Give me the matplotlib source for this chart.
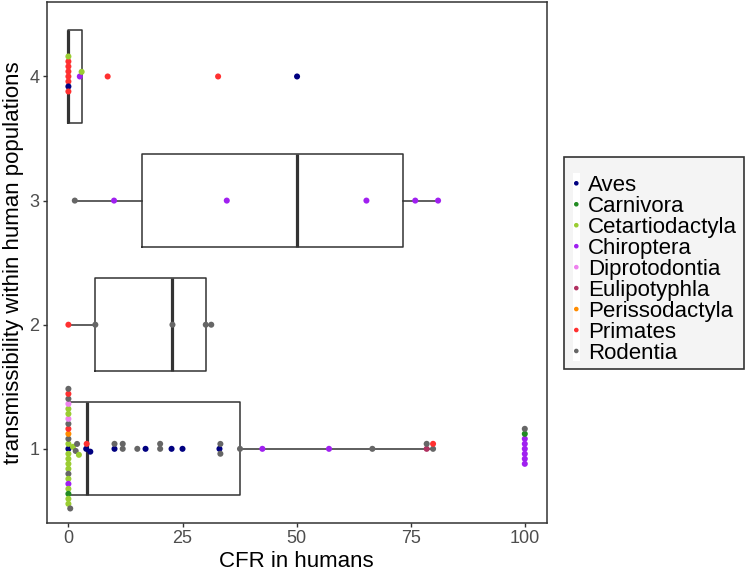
import numpy as np
import matplotlib
matplotlib.use("Agg")
import matplotlib.pyplot as plt
from matplotlib.patches import Rectangle

plt.rcParams["font.family"] = ["Liberation Sans", "DejaVu Sans"]

# ---- host orders and their colours ----
orders = ["Aves", "Carnivora", "Cetartiodactyla", "Chiroptera", "Diprotodontia",
          "Eulipotyphla", "Perissodactyla", "Primates", "Rodentia"]
order_colors = ["#000080", "#228B22", "#9ACD32", "#A020F0", "#EE82EE",
                "#B03060", "#FF8C00", "#FF3030", "#666666"]

# ---- CFR (%) per virus, grouped by transmissibility level ----
cfr_level1 = [0, 0, 0, 0, 0, 0, 0, 0, 0, 0, 0, 0, 0, 0, 0, 0, 0, 0, 0, 0, 0, 0, 0, 0,
              0.4, 1.0, 1.6, 1.9, 2.3, 3.9, 4.0, 4.8, 10.1, 10.1, 11.9, 11.9,
              15.1, 16.9, 20.1, 20.1, 22.6, 25.0, 33.1, 33.3, 33.3, 37.6, 42.5,
              57.1, 66.6, 78.5, 78.5, 79.9, 79.9,
              100, 100, 100, 100, 100, 100, 100, 100]
host_level1 = ["Aves", "Cetartiodactyla", "Cetartiodactyla", "Rodentia", "Cetartiodactyla",
               "Perissodactyla", "Cetartiodactyla", "Primates", "Cetartiodactyla", "Rodentia",
               "Rodentia", "Diprotodontia", "Cetartiodactyla", "Cetartiodactyla", "Chiroptera",
               "Cetartiodactyla", "Cetartiodactyla", "Diprotodontia", "Carnivora", "Rodentia",
               "Cetartiodactyla", "Primates", "Cetartiodactyla", "Rodentia",
               "Rodentia", "Cetartiodactyla", "Rodentia", "Rodentia", "Cetartiodactyla",
               "Aves", "Primates", "Aves", "Aves", "Rodentia", "Rodentia", "Rodentia",
               "Rodentia", "Aves", "Rodentia", "Rodentia", "Aves", "Aves", "Aves",
               "Rodentia", "Rodentia", "Rodentia", "Chiroptera",
               "Chiroptera", "Rodentia", "Eulipotyphla", "Rodentia", "Rodentia", "Primates",
               "Chiroptera", "Chiroptera", "Chiroptera", "Chiroptera", "Chiroptera",
               "Carnivora", "Chiroptera", "Rodentia"]

cfr_level2 = [0, 5.9, 22.8, 30.1, 31.3]
host_level2 = ["Primates", "Rodentia", "Rodentia", "Rodentia", "Rodentia"]

cfr_level3 = [1.4, 10.0, 34.7, 65.3, 76.0, 81.0]
host_level3 = ["Rodentia", "Chiroptera", "Chiroptera", "Chiroptera", "Chiroptera", "Chiroptera"]

cfr_level4 = [0, 0, 0, 0, 0, 0, 0, 0, 2.5, 2.9, 8.6, 32.8, 50.1]
host_level4 = ["Primates", "Primates", "Primates", "Primates", "Aves", "Primates",
               "Primates", "Cetartiodactyla", "Chiroptera", "Cetartiodactyla",
               "Primates", "Primates", "Aves"]

levels = [1, 2, 3, 4]
level_labels = ["1", "2", "3", "4"]
cfr_by_level = [cfr_level1, cfr_level2, cfr_level3, cfr_level4]
host_by_level = [host_level1, host_level2, host_level3, host_level4]
x_ticks = [0, 25, 50, 75, 100]

# ---- figure / axes ----
W, H = 745, 575
fig = plt.figure(figsize=(W / 100, H / 100), dpi=100)
ax_l, ax_r, ax_t, ax_b = 46.5, 546.7, 2.0, 523.3
ax = fig.add_axes([ax_l / W, 1 - ax_b / H, (ax_r - ax_l) / W, (ax_b - ax_t) / H])
xlim = (-4.8, 104.8)
ylim = (0.4, 4.6)
ax.set_xlim(*xlim)
ax.set_ylim(*ylim)

px_per_x = (ax_r - ax_l) / (xlim[1] - xlim[0])
px_per_y = (ax_b - ax_t) / (ylim[1] - ylim[0])


def swarm_offsets(values, spacing_px):
    """Beeswarm layout: each point (ascending value) takes the free
    vertical offset closest to the centre line, upper side first on ties."""
    values = np.asarray(values, dtype=float)
    order = np.argsort(values, kind="stable")
    placed = []
    offs = np.zeros(len(values))
    d2 = spacing_px ** 2
    for i in order:
        xp = values[i] * px_per_x
        near = [(px, po) for px, po in placed if abs(px - xp) < spacing_px]
        cands = [0.0]
        for px, po in near:
            dy = np.sqrt(d2 - (px - xp) ** 2)
            cands += [po + dy, po - dy]
        cands.sort(key=lambda c: (round(abs(c), 6), -c))
        for c in cands:
            if all((px - xp) ** 2 + (po - c) ** 2 >= d2 - 1e-6 for px, po in near):
                offs[i] = c
                break
        placed.append((xp, offs[i]))
    return offs / px_per_y


color_of = dict(zip(orders, order_colors))
line_col = "#333333"

# boxplots without outliers
ax.boxplot(cfr_by_level, positions=levels, orientation="horizontal", widths=0.75,
           showfliers=False, showcaps=False, whis=1.5, manage_ticks=False,
           boxprops=dict(color=line_col, linewidth=1.1),
           whiskerprops=dict(color=line_col, linewidth=1.1),
           medianprops=dict(color=line_col, linewidth=2.3), zorder=2)

# swarm points
for lvl, vals, hosts in zip(levels, cfr_by_level, host_by_level):
    off = swarm_offsets(vals, 5.0)
    ax.scatter(vals, lvl + off, s=19, c=[color_of[h] for h in hosts],
               linewidths=0, zorder=3)

ax.set_xticks(x_ticks)
ax.set_xticklabels([str(t) for t in x_ticks])
ax.set_yticks(levels)
ax.set_yticklabels(level_labels)
ax.tick_params(axis="both", colors="#333333", labelcolor="#4D4D4D", labelsize=13,
               length=3, width=1.0, pad=2)
for sp in ax.spines.values():
    sp.set_color(line_col)
    sp.set_linewidth(1.1)

ax.set_xlabel("CFR in humans", fontsize=16, color="black", labelpad=3)
ax.set_ylabel("transmissibility within human populations", fontsize=16,
              color="black", labelpad=4)

# ---- legend drawn on a pixel-coordinate overlay ----
ov = fig.add_axes([0, 0, 1, 1], zorder=5)
ov.set_xlim(0, W)
ov.set_ylim(H, 0)
ov.set_axis_off()
ov.patch.set_alpha(0)

ov.add_patch(Rectangle((564.3, 157.3), 179.5, 211.7, facecolor="#F4F4F4",
                       edgecolor=line_col, linewidth=1.2))
ov.add_patch(Rectangle((572.7, 172.7), 7.3, 188.0, facecolor="white",
                       edgecolor="none"))
key_y = 183.3 + 20.96 * np.arange(len(orders))
ov.scatter(np.full(len(orders), 576.3), key_y, s=11, c=order_colors,
           linewidths=0, zorder=6)
for yk, name in zip(key_y, orders):
    ov.text(588.3, yk, name, fontsize=16, color="black", va="center_baseline",
            ha="left")

fig.savefig("out.png", dpi=100)
